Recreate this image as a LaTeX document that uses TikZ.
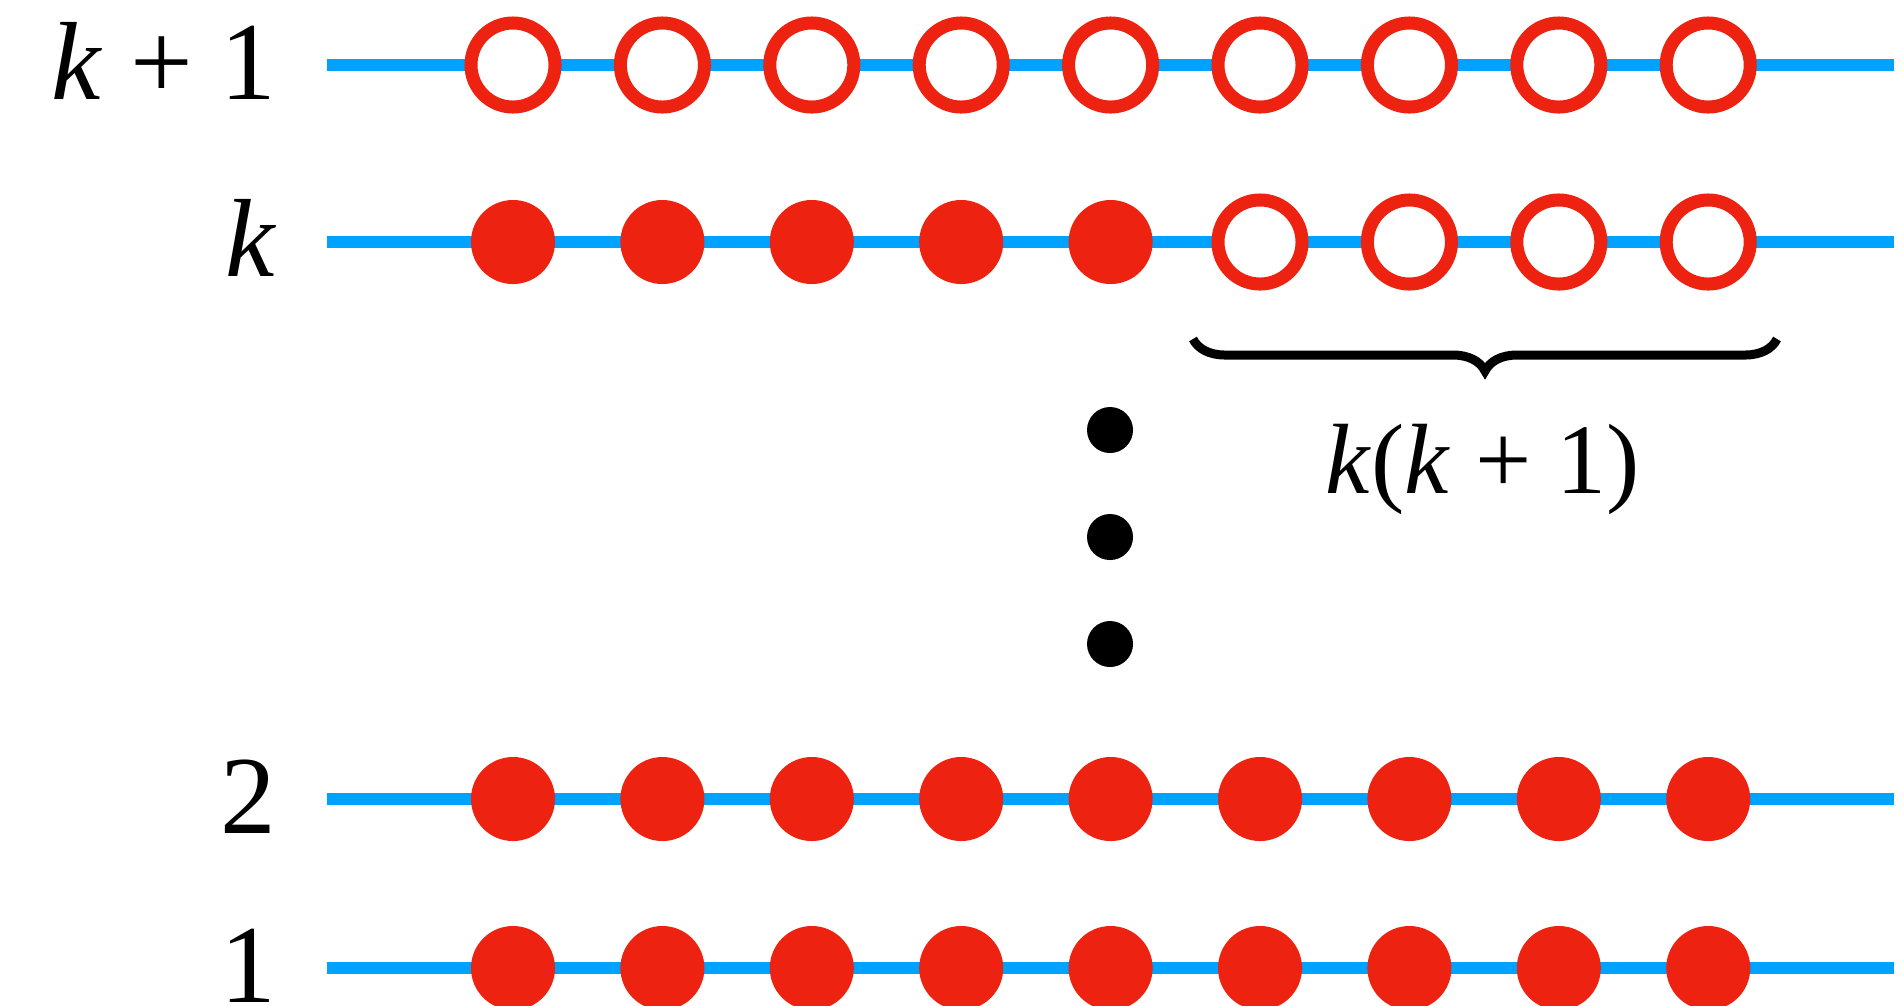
\documentclass[tikz,border=0pt]{standalone}
\usepackage{fontspec}
\setmainfont{Liberation Serif}
\usepackage{tikz}
\usetikzlibrary{decorations.pathreplacing}
\definecolor{railBlue}{RGB}{0, 162, 255}
\definecolor{siteRed}{RGB}{238, 34, 16}

\begin{document}
\begin{tikzpicture}[
    x=0.01cm, y=-0.01cm,
    rail/.style={
        line width=0.12cm,
        railBlue
    },
    fullsite/.style={
        circle,
        inner sep=0pt,
        minimum size=0.84cm,
        fill=siteRed
    },
    emptysite/.style={
        circle,
        inner sep=0pt,
        minimum size=0.84cm,
        draw=siteRed,
        line width=0.13cm,
        fill=white
    },
    vdot/.style={
        circle,
        inner sep=0pt,
        minimum size=0.46cm,
        fill=black
    },
    rowlabel/.style={
        anchor=base east,
        inner sep=0pt,
        font=\fontsize{31.6pt}{38pt}\selectfont
    },
    countlabel/.style={
        anchor=base,
        inner sep=0pt,
        font=\fontsize{28.4pt}{34pt}\selectfont
    }
]
\useasboundingbox (0,0) rectangle (1904,1005);

% Levels - name / height / label / filled sites
\foreach \r/\ry/\lab/\nf in {a/65/{\textit{k} + 1}/0, b/242/{\textit{k}}/5, c/799/{2}/9, d/968/{1}/9} {
    \node[rowlabel] (lab\r) at (277, \ry+34) {\lab};
    \draw[rail] (327, \ry) -- (1894, \ry);
    \foreach \i in {1,...,9} {
        \ifnum\i>\nf
            \node[emptysite] (\r\i) at ({513+149.4*(\i-1)}, \ry) {};
        \else
            \node[fullsite] (\r\i) at ({513+149.4*(\i-1)}, \ry) {};
        \fi
    }
}

% Vertical dots
\node[vdot] (d1) at (1110, 430) {};
\node[vdot] (d2) at (1110, 537) {};
\node[vdot] (d3) at (1110, 644) {};

% Brace under the empty sites of level k
\coordinate (bl) at (1193, 339);
\coordinate (br) at (1777, 339);
\draw[line width=0.09cm, decorate, decoration={brace, mirror, amplitude=0.32cm}] (bl) -- (br);
\node[countlabel] (cnt) at (1483, 493) {\textit{k}(\textit{k} + 1)};

\end{tikzpicture}
\end{document}
